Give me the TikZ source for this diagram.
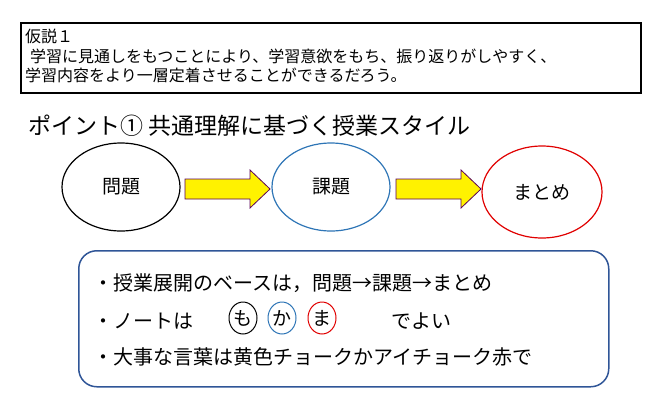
\documentclass[tikz,border=0pt]{standalone}
\usepackage{fontspec}
\setmainfont{Noto Sans CJK JP}
\usetikzlibrary{shapes.geometric,calc}
\definecolor{cblue}{HTML}{2E75B6}
\definecolor{cred}{HTML}{E00000}
\definecolor{bdark}{HTML}{2F5597}
\tikzset{
  bigell/.style={draw,ellipse,line width=1.2pt,minimum width=118pt,minimum height=88pt,font=\fontsize{19}{22}\selectfont},
  yarrow/.style={draw=violet!70!black,fill=yellow,line width=0.8pt},
  smallc/.style={draw,ellipse,line width=1pt,minimum width=28pt,minimum height=32pt,inner sep=0pt,font=\fontsize{19}{20}\selectfont},
  line/.style={anchor=west,font=\fontsize{20}{22}\selectfont}
}
\begin{document}
\begin{tikzpicture}[x=1pt,y=-1pt]
\useasboundingbox (0,0) rectangle (660,410);
\node[draw,line width=1.5pt,minimum width=620pt,minimum height=70pt,anchor=north west] (hyp) at (20,22) {};
\node[anchor=north west,align=left,font=\fontsize{16}{19.5}\selectfont,inner sep=0pt] (ht) at (25,29) {仮説１\\\hspace*{0.3em}学習に見通しをもつことにより、学習意欲をもち、振り返りがしやすく、\\学習内容をより一層定着させることができるだろう。};
\node[anchor=west,font=\fontsize{23}{26}\selectfont,inner sep=0pt] (title) at (28,126) {ポイント① 共通理解に基づく授業スタイル};
\node[bigell] (a) at (121,187) {問題};
\node[bigell,draw=cblue] (b) at (331,187) {課題};
\node[bigell,draw=cred,minimum width=120pt,minimum height=92pt] (c) at (542,192) {まとめ};
\coordinate (p1) at (185,189);
\coordinate (p2) at (396,189);
\draw[yarrow] ($(p1)+(0,-10)$) -- ++(65,0) -- ++(0,-9) -- ++(20,19) -- ++(-20,19) -- ++(0,-9) -- ++(-65,0) -- cycle;
\draw[yarrow] ($(p2)+(0,-10)$) -- ++(65,0) -- ++(0,-9) -- ++(20,19) -- ++(-20,19) -- ++(0,-9) -- ++(-65,0) -- cycle;
\node[draw=bdark,line width=1.5pt,rounded corners=18pt,minimum width=530pt,minimum height=136pt,anchor=north west] (box) at (78,250) {};
\node[line] (l1) at (90,283) {・授業展開のベースは，問題→課題→まとめ};
\node[line] (l2) at (90,321) {・ノートは};
\node[smallc] (m) at (243,318) {も};
\node[smallc,draw=cblue] (k) at (282,318) {か};
\node[smallc,draw=cred] (ma) at (322,318) {ま};
\node[line] (l2b) at (388,321) {でよい};
\node[line] (l3) at (90,357) {・大事な言葉は黄色チョークかアイチョーク赤で};
\end{tikzpicture}
\end{document}
